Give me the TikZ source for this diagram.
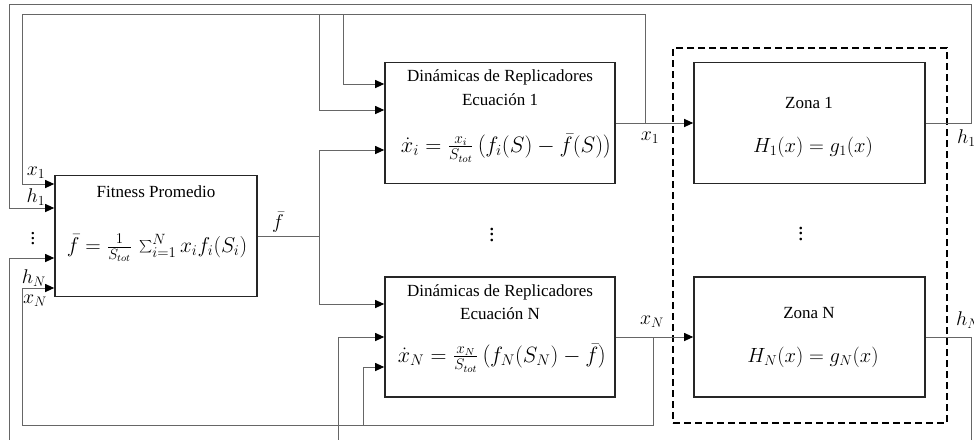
\documentclass[tikz,border=0pt]{standalone}
\usepackage{graphicx}
\usepackage{fontspec}
\setmainfont{Liberation Serif}
\usetikzlibrary{arrows.meta,calc}
\newcommand{\MScale}[2]{\scalebox{#1}{#2}}
\begin{document}
\begin{tikzpicture}[x=1pt,y=-1pt,
  box/.style={draw=black!85,line width=1.6pt,inner sep=0pt,minimum width=230pt,minimum height=121pt},
  wire/.style={draw=black!60,line width=1pt},
  arr/.style={wire,-{Triangle[length=9pt,width=8pt,color=black]}},
  txt/.style={inner sep=0pt,font=\fontsize{17}{20}\selectfont},
  mth/.style={inner sep=0pt,font=\fontsize{17}{20}\selectfont},
  lbl/.style={inner sep=0pt,font=\fontsize{17}{20}\selectfont},
  dashbox/.style={draw=black,line width=2.2pt,dash pattern=on 7pt off 4pt,inner sep=0pt}]
\useasboundingbox (0,0) rectangle (974,439);
\clip (0,0) rectangle (974,439);
\fill[white] (0,0) rectangle (974,439);

% boxes
\node[box,minimum width=202pt] (fit) at (156,236) {};
\node[box] (dyn1) at (500,123) {};
\node[box,minimum height=120pt] (dynN) at (500,337) {};
\node[box,minimum width=231pt] (zona1) at (809.5,123) {};
\node[box,minimum width=231pt,minimum height=120pt] (zonaN) at (809.5,337) {};
\node[dashbox,minimum width=274pt,minimum height=375pt] (zone) at (810,235.5) {};

% texts
\node[txt] (fitT) at (156,192) {Fitness Promedio};
\node[mth] (fitF) at (157,248) {\MScale{1.24}{$\bar f = \frac{1}{S_{tot}}\,\sum_{i=1}^{N} x_i f_i(S_i)$}};
\node[txt] (d1a) at (500,77) {Dinámicas de Replicadores};
\node[txt] (d1b) at (500,100) {Ecuación 1};
\node[mth] (d1f) at (506,148) {\MScale{1.29}{$\dot{x}_i = \frac{x_i}{S_{tot}}\left(f_i(S) - \bar f(S)\right)$}};
\node[txt] (dNa) at (500,292) {Dinámicas de Replicadores};
\node[txt] (dNb) at (500,314) {Ecuación N};
\node[mth] (dNf) at (502,358) {\MScale{1.28}{$\dot{x}_N = \frac{x_N}{S_{tot}}\left(f_N(S_N) - \bar f\right)$}};
\node[txt] (z1a) at (809,103) {Zona 1};
\node[mth] (z1f) at (813,147) {\MScale{1.19}{$H_1(x) = g_1(x)$}};
\node[txt] (zNa) at (809,313) {Zona N};
\node[mth] (zNf) at (813,357) {\MScale{1.19}{$H_N(x) = g_N(x)$}};
\node[mth] (dotsD) at (492,231) {\MScale{1.3}{$\vdots$}};
\node[mth] (dotsZ) at (801,230) {\MScale{1.3}{$\vdots$}};

% corner coordinates
\coordinate (h1r) at (971,123);
\coordinate (h1rt) at (971,4);
\coordinate (h1lt) at (9,4);
\coordinate (h1lb) at (9,208);
\coordinate (x1b) at (645,123);
\coordinate (x1t) at (645,14);
\coordinate (x1lt) at (22,14);
\coordinate (x1lb) at (22,184);
\coordinate (ta) at (343,14);
\coordinate (ia) at (343,84);
\coordinate (tb) at (319,14);
\coordinate (ib) at (319,110);
\coordinate (fb1) at (319,150);
\coordinate (fb2) at (319,304);
\coordinate (xNb) at (653,337);
\coordinate (xNd) at (653,425);
\coordinate (xNl) at (22,425);
\coordinate (xNu) at (22,288);
\coordinate (bxa) at (363,425);
\coordinate (bxu) at (363,367);
\coordinate (hNr) at (971,337);
\coordinate (hNd) at (971,450);
\coordinate (hNl) at (9,450);
\coordinate (hNu) at (9,258);
\coordinate (bha) at (338,450);
\coordinate (bhu) at (338,337);

% connectors
\draw[arr] (dyn1.east) -- (zona1.west);
\draw[arr] (dynN.east) -- (zonaN.west);
\draw[arr] (zona1.east) -- (h1r) -- (h1rt) -- (h1lt) -- (h1lb) -- (fit.west |- h1lb);
\draw[arr] (x1b) -- (x1t) -- (x1lt) -- (x1lb) -- (fit.west |- x1lb);
\draw[arr] (ta) -- (ia) -- (dyn1.west |- ia);
\draw[arr] (tb) -- (ib) -- (dyn1.west |- ib);
\draw[wire] (fit.east) -- (fit.east -| fb1);
\draw[wire] (fb1) -- (fb2);
\draw[arr] (fb1) -- (dyn1.west |- fb1);
\draw[arr] (fb2) -- (dynN.west |- fb2);
\draw[arr] (xNb) -- (xNd) -- (xNl) -- (xNu) -- (fit.west |- xNu);
\draw[arr] (bxa) -- (bxu) -- (dynN.west |- bxu);
\draw[arr] (zonaN.east) -- (hNr) -- (hNd) -- (hNl) -- (hNu) -- (fit.west |- hNu);
\draw[arr] (bha) -- (bhu) -- (dynN.west |- bhu);

% labels
\node[lbl] (lx1) at (36,173) {\MScale{1.15}{$x_1$}};
\node[lbl] (lh1) at (36,197) {\MScale{1.15}{$h_1$}};
\node[lbl] (ldots) at (33,235) {\MScale{1.2}{$\vdots$}};
\node[lbl] (lhN) at (34,278) {\MScale{1.15}{$h_N$}};
\node[lbl] (lxN) at (35,301) {\MScale{1.15}{$x_N$}};
\node[lbl] (lf) at (278,222) {\MScale{1.15}{$\bar f$}};
\node[lbl] (rx1) at (650,138) {\MScale{1.15}{$x_1$}};
\node[lbl] (rxN) at (652,322) {\MScale{1.15}{$x_N$}};
\node[lbl,anchor=west] (rh1) at (957,138) {\MScale{1.15}{$h_1$}};
\node[lbl,anchor=west] (rhN) at (956,320) {\MScale{1.15}{$h_N$}};
\end{tikzpicture}
\end{document}
